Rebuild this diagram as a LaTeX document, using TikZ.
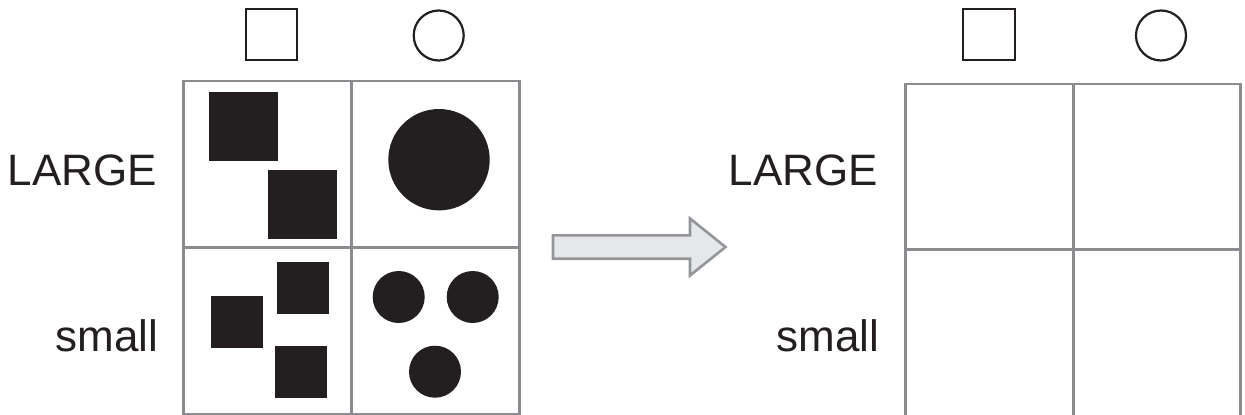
\documentclass[tikz,border=0pt]{standalone}
\usepackage{fontspec}
\setmainfont{Liberation Sans}
\usepackage{tikz}

\definecolor{ink}{HTML}{231F20}
\definecolor{gridgray}{HTML}{8A8C8F}
\definecolor{arrowfill}{HTML}{E6E7E8}
\definecolor{arrowline}{HTML}{939598}

\tikzset{
  cell/.style={draw=gridgray, line width=2.6pt},
  header/.style={draw=ink, line width=2.2pt},
  rowlabel/.style={anchor=base east, inner sep=0pt, text=ink, font=\fontsize{44}{50}\selectfont}
}

\begin{document}
\begin{tikzpicture}[x=1pt,y=-1pt]
  \useasboundingbox (0,0) rectangle (1245,415);

  % left table
  \draw[cell] (183.3,81) rectangle (519.3,414);
  \draw[cell] (351.3,81) -- (351.3,414);
  \draw[cell] (183.3,247.5) -- (519.3,247.5);

  \draw[header] (246,9) rectangle (297,60);
  \draw[header] (438.7,35.5) circle (25);

  \node[rowlabel] (largeA) at (157,185.7) {LARGE};
  \node[rowlabel] (smallA) at (158.3,351) {small};

  \foreach \x/\y in {209/92,268/170} {
    \fill[ink] (\x,\y) rectangle (\x+69,\y+69);
  }
  \foreach \x/\y in {276.7/262.3,211/296,275/346} {
    \fill[ink] (\x,\y) rectangle (\x+52,\y+52);
  }
  \fill[ink] (439,159.7) circle (50.7);
  \foreach \x/\y in {398.7/297,472.7/297,435/371.7} {
    \fill[ink] (\x,\y) circle (26);
  }

  % block arrow
  \filldraw[fill=arrowfill, draw=arrowline, line width=2.6pt]
    (553,235.3) -- (690,235.3) -- (690,218.5) -- (725.5,247) -- (690,275.5)
    -- (690,258.7) -- (553,258.7) -- cycle;

  % right table, empty
  \draw[cell] (905.3,416) -- (905.3,84) -- (1240.7,84) -- (1240.7,416);
  \draw[cell] (1073.3,84) -- (1073.3,416);
  \draw[cell] (905.3,249.7) -- (1240.7,249.7);

  \draw[header] (963.3,9) rectangle (1014.7,60);
  \draw[header] (1161,35.5) circle (25);

  \node[rowlabel] (largeB) at (878.3,185.7) {LARGE};
  \node[rowlabel] (smallB) at (879.3,351) {small};
\end{tikzpicture}
\end{document}
